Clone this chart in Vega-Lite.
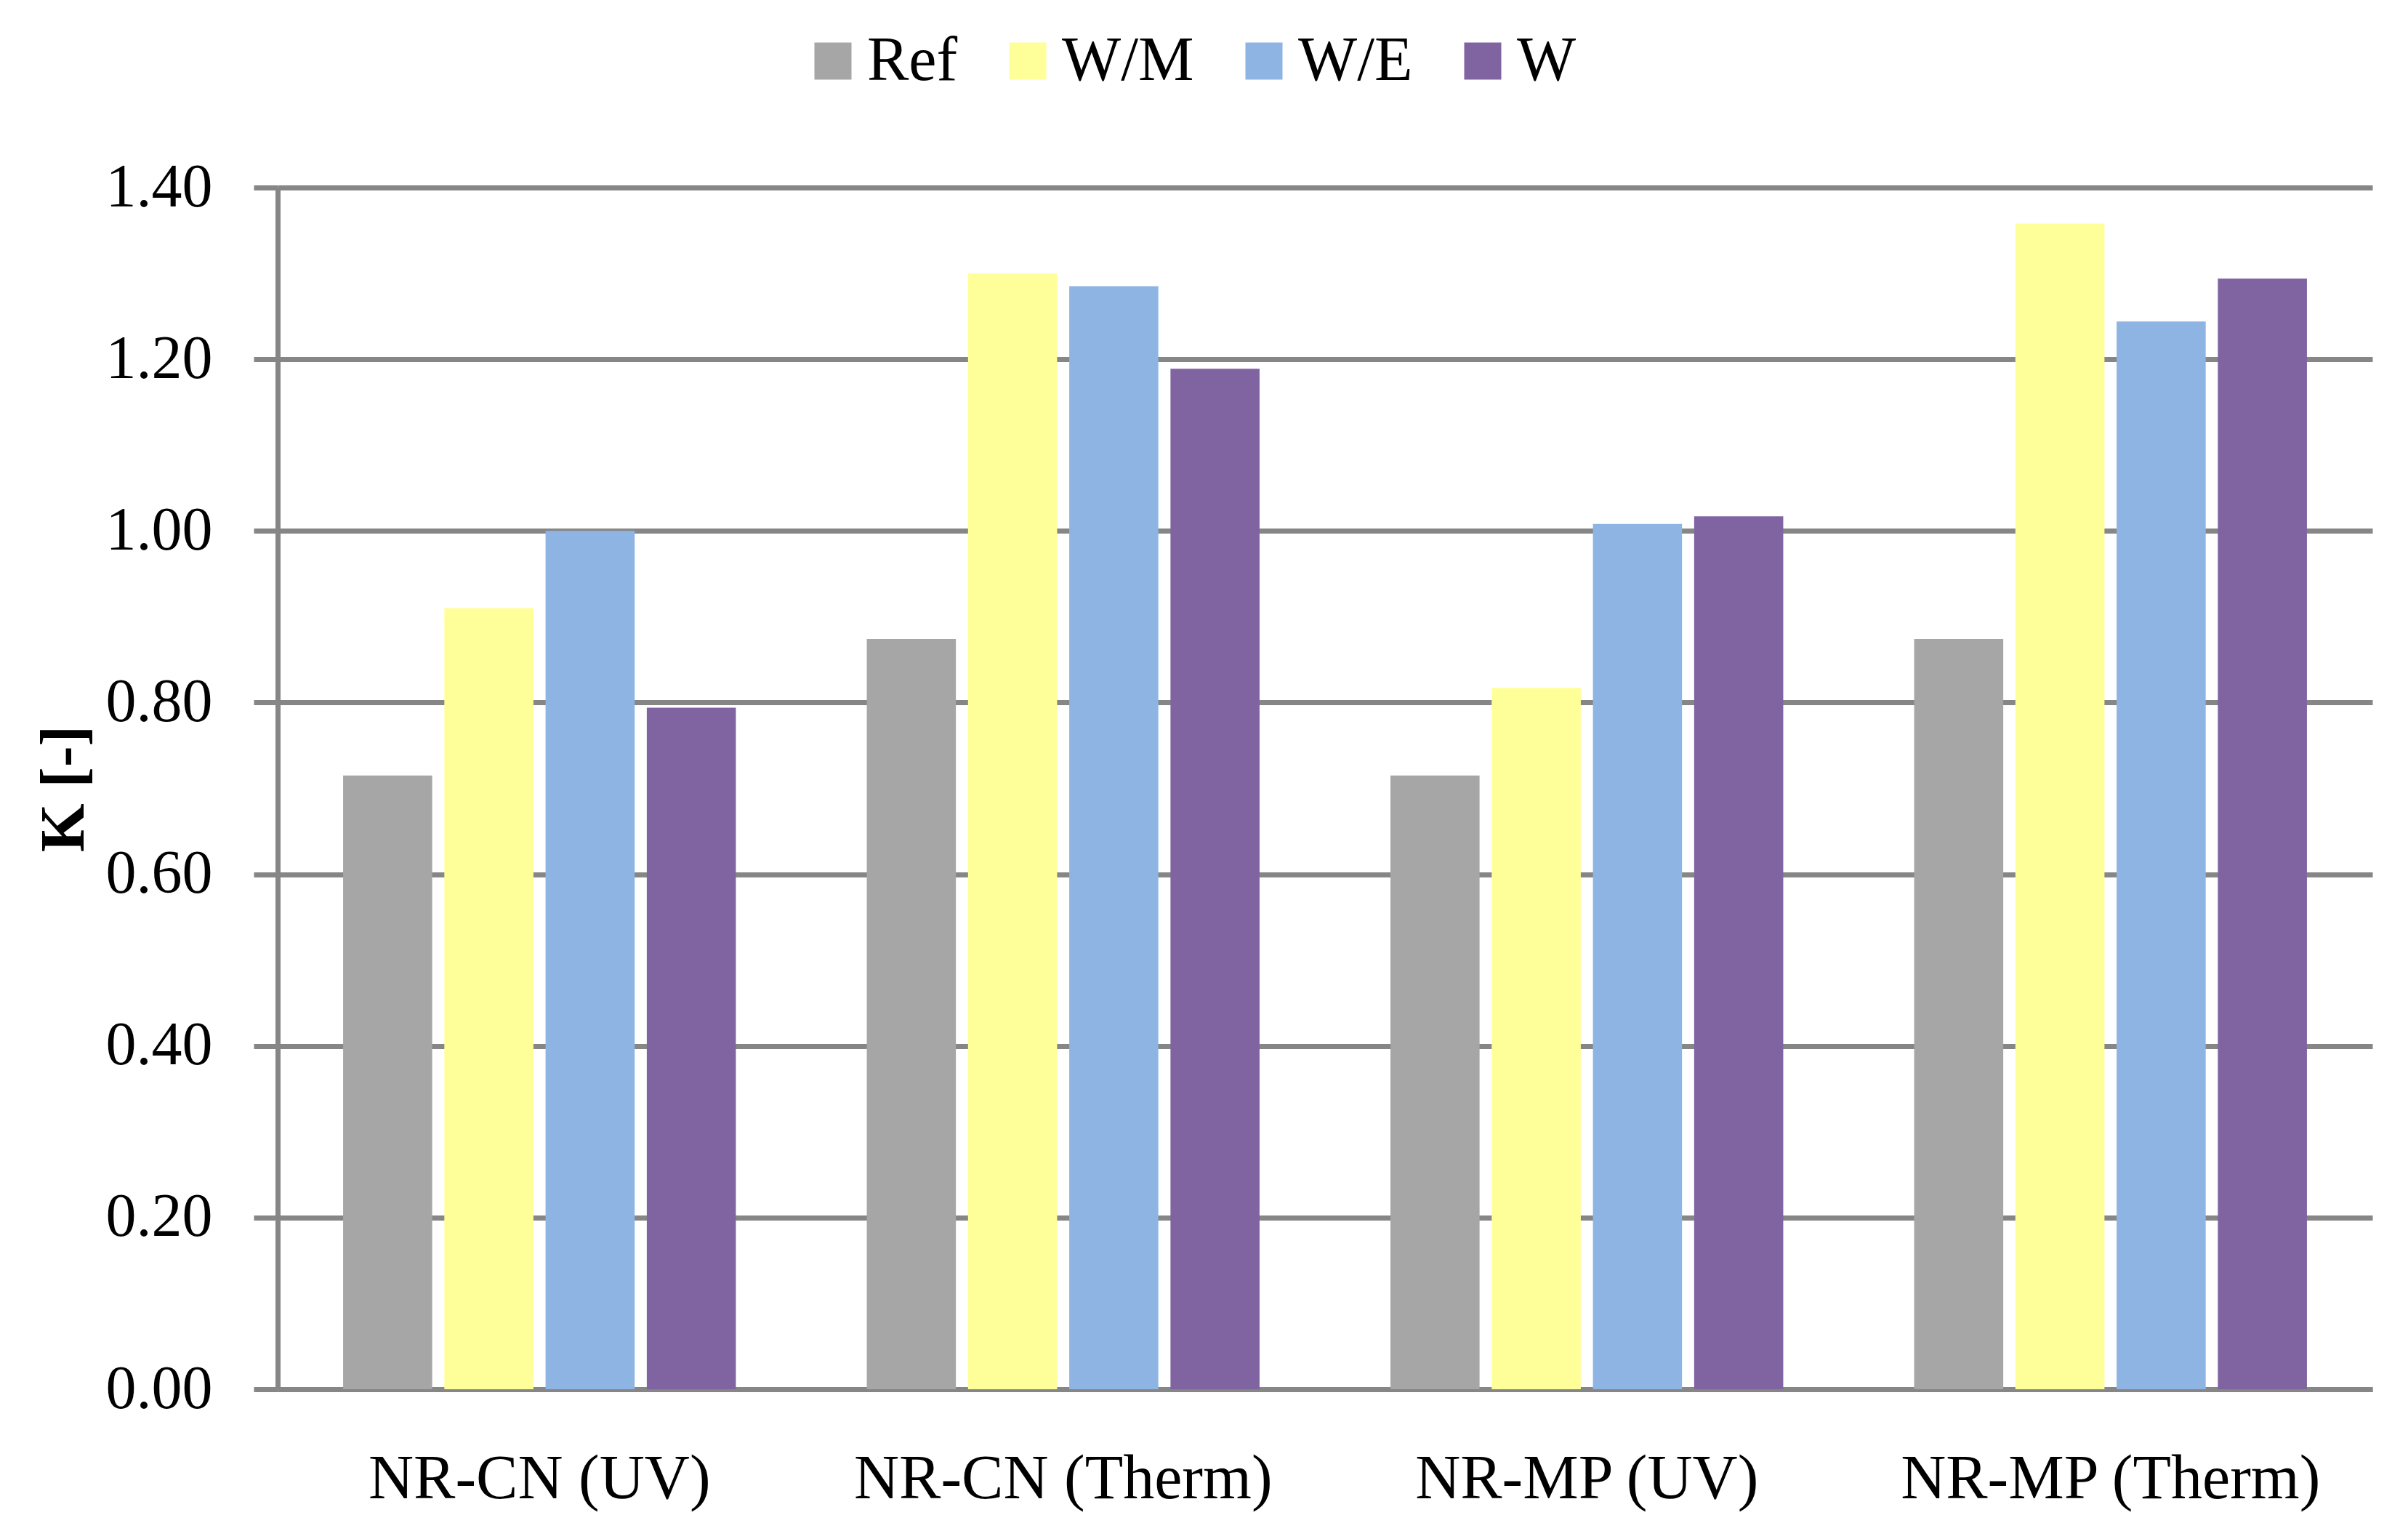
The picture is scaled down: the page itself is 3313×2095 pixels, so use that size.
{
  "$schema": "https://vega.github.io/schema/vega-lite/v6.json",
  "autosize": {"type": "none"},
  "width": 2882,
  "height": 1653,
  "padding": {"left": 382, "top": 258, "right": 49, "bottom": 184},
  "background": "white",
  "config": {
    "view": {"stroke": null},
    "font": "Liberation Serif"
  },
  "data": {
    "values": [
      {"sample": "NR-CN (UV)", "series": "Ref", "K": 0.715},
      {"sample": "NR-CN (UV)", "series": "W/M", "K": 0.91},
      {"sample": "NR-CN (UV)", "series": "W/E", "K": 1.0},
      {"sample": "NR-CN (UV)", "series": "W", "K": 0.794},
      {"sample": "NR-CN (Therm)", "series": "Ref", "K": 0.874},
      {"sample": "NR-CN (Therm)", "series": "W/M", "K": 1.3},
      {"sample": "NR-CN (Therm)", "series": "W/E", "K": 1.285},
      {"sample": "NR-CN (Therm)", "series": "W", "K": 1.189},
      {"sample": "NR-MP (UV)", "series": "Ref", "K": 0.715},
      {"sample": "NR-MP (UV)", "series": "W/M", "K": 0.817},
      {"sample": "NR-MP (UV)", "series": "W/E", "K": 1.008},
      {"sample": "NR-MP (UV)", "series": "W", "K": 1.017},
      {"sample": "NR-MP (Therm)", "series": "Ref", "K": 0.874},
      {"sample": "NR-MP (Therm)", "series": "W/M", "K": 1.358},
      {"sample": "NR-MP (Therm)", "series": "W/E", "K": 1.244},
      {"sample": "NR-MP (Therm)", "series": "W", "K": 1.294}
    ]
  },
  "mark": {"type": "bar"},
  "encoding": {
    "x": {
      "field": "sample",
      "type": "nominal",
      "sort": ["NR-CN (UV)", "NR-CN (Therm)", "NR-MP (UV)", "NR-MP (Therm)"],
      "scale": {"paddingInner": 0.25, "paddingOuter": 0.125},
      "axis": {
        "title": null,
        "labelAngle": 0,
        "labelFont": "Liberation Serif",
        "labelFontSize": 86,
        "labelColor": "black",
        "labelPadding": 81,
        "labelBaseline": "top",
        "ticks": false,
        "tickSize": 0,
        "domain": true,
        "domainColor": "#868686",
        "domainWidth": 7,
        "grid": false,
        "labelLimit": 1000
      }
    },
    "xOffset": {
      "field": "series",
      "type": "nominal",
      "sort": ["Ref", "W/M", "W/E", "W"],
      "scale": {"paddingInner": 0.12, "paddingOuter": 0}
    },
    "y": {
      "field": "K",
      "type": "quantitative",
      "scale": {"domain": [0, 1.4], "nice": false, "zero": true},
      "axis": {
        "title": "K [-]",
        "titleFont": "Liberation Serif",
        "titleFontSize": 86,
        "titleFontWeight": "bold",
        "titleColor": "black",
        "titlePadding": 50,
        "values": [0, 0.2, 0.4, 0.6, 0.8, 1.0, 1.2, 1.4],
        "format": ".2f",
        "labelFont": "Liberation Serif",
        "labelFontSize": 84,
        "labelColor": "black",
        "labelPadding": 57,
        "tickSize": 33,
        "tickColor": "#868686",
        "tickWidth": 7,
        "domainColor": "#868686",
        "domainWidth": 7,
        "grid": true,
        "gridColor": "#868686",
        "gridWidth": 7
      }
    },
    "color": {
      "field": "series",
      "type": "nominal",
      "sort": ["Ref", "W/M", "W/E", "W"],
      "scale": {
        "domain": ["Ref", "W/M", "W/E", "W"],
        "range": ["#A6A6A6", "#FFFF99", "#8EB4E3", "#8064A2"]
      },
      "legend": {
        "title": null,
        "orient": "none",
        "legendX": 721,
        "legendY": -217,
        "direction": "horizontal",
        "symbolType": "square",
        "symbolSize": 2601,
        "symbolStrokeWidth": 0,
        "labelFont": "Liberation Serif",
        "labelFontSize": 86,
        "labelColor": "black",
        "labelOffset": 4,
        "labelLimit": 1000,
        "columnPadding": 53
      }
    }
  }
}
